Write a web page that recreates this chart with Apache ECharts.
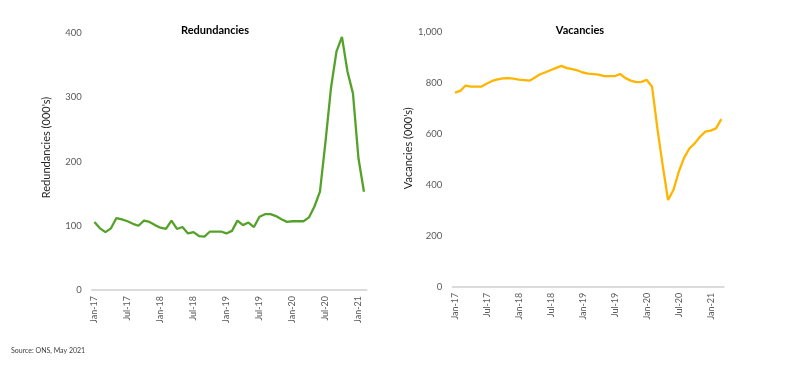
<!DOCTYPE html>
<html>
<head>
<meta charset="utf-8">
<script src="https://cdn.jsdelivr.net/npm/echarts@6/dist/echarts.min.js"></script>
<style>
html,body{margin:0;padding:0;background:#fff;}
#chart{width:800px;height:369px;}
</style>
</head>
<body>
<div id="chart"></div>
<script>
var months = ['Jan-17','Feb-17','Mar-17','Apr-17','May-17','Jun-17','Jul-17','Aug-17','Sep-17','Oct-17','Nov-17','Dec-17',
'Jan-18','Feb-18','Mar-18','Apr-18','May-18','Jun-18','Jul-18','Aug-18','Sep-18','Oct-18','Nov-18','Dec-18',
'Jan-19','Feb-19','Mar-19','Apr-19','May-19','Jun-19','Jul-19','Aug-19','Sep-19','Oct-19','Nov-19','Dec-19',
'Jan-20','Feb-20','Mar-20','Apr-20','May-20','Jun-20','Jul-20','Aug-20','Sep-20','Oct-20','Nov-20','Dec-20',
'Jan-21','Feb-21','Mar-21'];

var redundancyMonths = months.slice(0, 50);
var redundancies = [106,96,90,96,112,110,107,103,100,108,106,101,
97,95,108,95,98,88,90,84,83,91,91,91,
88,92,108,101,105,98,114,118,118,115,110,106,
107,107,107,113,130,153,230,314,371,394,340,306,
205,153];

var vacancyMonths = months.slice(0, 51);
var vacancies = [761,768,789,785,785,785,797,807,813,817,818,816,
812,810,808,820,833,841,850,858,866,857,853,848,
840,836,834,832,826,826,826,834,818,808,802,803,
811,784,620,475,340,379,450,505,542,562,588,608,
612,621,657];

var FONT = 'Lato';
var labelColor = '#595959';

function xAxisCfg(idx, cats){
  return {
    type:'category', gridIndex:idx, data:cats, boundaryGap:true,
    axisLine:{show:true, lineStyle:{color:'#d0d0d0', width:1.5}},
    axisTick:{show:false},
    axisLabel:{interval:5, rotate:90, margin:6, fontFamily:FONT, fontSize:9, color:labelColor}
  };
}

var option = {
  animation:false,
  backgroundColor:'#fff',
  textStyle:{fontFamily:FONT},
  title:[
    {text:'Redundancies', left:215, top:25, textAlign:'center', padding:0,
     textStyle:{fontFamily:FONT, fontSize:11, fontWeight:'bold', color:'#000'}},
    {text:'Vacancies', left:580, top:25, textAlign:'center', padding:0,
     textStyle:{fontFamily:FONT, fontSize:11, fontWeight:'bold', color:'#000'}},
    {text:'Source: ONS, May 2021', left:11, top:347, padding:0,
     textStyle:{fontFamily:FONT, fontSize:7, fontWeight:'normal', color:'#404040'}}
  ],
  grid:[
    {left:91.7, right:800-366.7, top:33, bottom:369-290},
    {left:452.3, right:800-724, top:31.7, bottom:369-286.7}
  ],
  xAxis:[xAxisCfg(0, redundancyMonths), xAxisCfg(1, vacancyMonths)],
  yAxis:[
    {type:'value', gridIndex:0, min:0, max:400, interval:100,
     name:"Redundancies (000's)", nameLocation:'middle', nameGap:40,
     nameTextStyle:{fontFamily:FONT, fontSize:11, color:'#262626', padding:[0,0,0,28]},
     axisLine:{show:false}, axisTick:{show:false}, splitLine:{show:false},
     axisLabel:{margin:10, fontFamily:FONT, fontSize:9.5, color:labelColor}},
    {type:'value', gridIndex:1, min:0, max:1000, interval:200,
     name:"Vacancies (000's)", nameLocation:'middle', nameGap:34,
     nameTextStyle:{fontFamily:FONT, fontSize:11, color:'#262626', padding:[0,0,0,22]},
     axisLine:{show:false}, axisTick:{show:false}, splitLine:{show:false},
     axisLabel:{margin:10, fontFamily:FONT, fontSize:9.5, color:labelColor,
       formatter:function(v){return v.toLocaleString('en-GB');}}}
  ],
  series:[
    {type:'line', name:'Redundancies', xAxisIndex:0, yAxisIndex:0, data:redundancies,
     symbol:'none', smooth:false, lineStyle:{color:'#55a22a', width:2.3}, itemStyle:{color:'#55a22a'}},
    {type:'line', name:'Vacancies', xAxisIndex:1, yAxisIndex:1, data:vacancies,
     symbol:'none', smooth:false, lineStyle:{color:'#ffb500', width:2.3}, itemStyle:{color:'#ffb500'}}
  ]
};

var chart = echarts.init(document.getElementById('chart'), null, {renderer:'canvas'});
chart.setOption(option);
</script>
</body>
</html>
